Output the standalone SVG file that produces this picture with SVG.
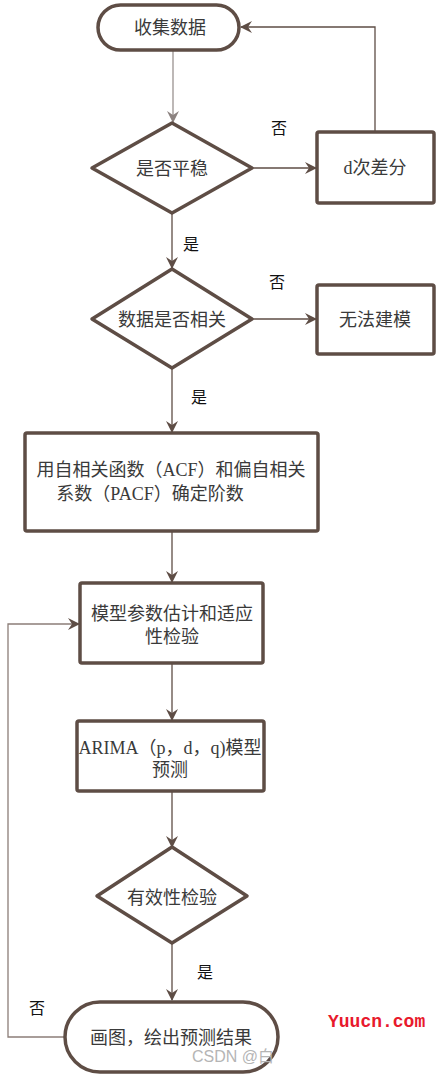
<svg xmlns="http://www.w3.org/2000/svg" width="438" height="1075" viewBox="0 0 438 1075">
<style>
.n{fill:#fff;stroke:#5e4d45;stroke-width:3.5;stroke-linejoin:round}
.t{font-family:"Liberation Serif","Noto Sans CJK SC",serif;font-size:18px;fill:#3a3a3a;text-anchor:middle;dominant-baseline:central}
.l{font-family:"Liberation Serif","Noto Sans CJK SC",serif;font-size:16px;fill:#111;text-anchor:middle;dominant-baseline:central}
.c{fill:none;stroke:#5e4d45;stroke-width:1.3}
</style>
<defs>
<marker id="a" viewBox="0 0 12 12" refX="11" refY="6" markerWidth="12" markerHeight="12" markerUnits="userSpaceOnUse" orient="auto">
<path d="M0,0 L12,6 L0,12 L4,6 z" fill="#5e4d45"/>
</marker>
<marker id="g" viewBox="0 0 12 12" refX="11" refY="6" markerWidth="12" markerHeight="12" markerUnits="userSpaceOnUse" orient="auto">
<path d="M0,0 L12,6 L0,12 L4,6 z" fill="#8c8280"/>
</marker>
</defs>
<g id="connectors">
<path class="c" style="stroke:#9a9290" d="M173,51 V122" marker-end="url(#g)"/>
<path class="c" d="M252,168 H316" marker-end="url(#a)"/>
<path class="c" d="M375,132 V27 H241" marker-end="url(#a)"/>
<path class="c" d="M172,213 V268" marker-end="url(#a)"/>
<path class="c" d="M252,319 H316" marker-end="url(#a)"/>
<path class="c" d="M172,368 V432" marker-end="url(#a)"/>
<path class="c" d="M172,532 V582" marker-end="url(#a)"/>
<path class="c" d="M172,663 V720" marker-end="url(#a)"/>
<path class="c" d="M172,791 V847" marker-end="url(#a)"/>
<path class="c" d="M172,943 V1000" marker-end="url(#a)"/>
<path class="c" style="stroke:#8c7d78" d="M65,1037 H8 V624 H79" marker-end="url(#a)"/>
<text class="l" x="279" y="128">否</text>
<text class="l" x="191" y="244">是</text>
<text class="l" x="277" y="282">否</text>
<text class="l" x="199" y="397">是</text>
<text class="l" x="205" y="972">是</text>
<text class="l" x="37" y="1008">否</text>
</g>
<g id="n1"><rect class="n" x="98" y="5" width="141" height="45" rx="22.5"/><text class="t" x="170" y="28">收集数据</text></g>
<g id="n2"><polygon class="n" points="172,123 252,168 172,213 92,168"/><text class="t" x="172" y="169">是否平稳</text></g>
<g id="n3"><rect class="n" x="317" y="132" width="117" height="71" rx="2"/><text class="t" x="375" y="168">d次差分</text></g>
<g id="n4"><polygon class="n" points="172,269 252,319 172,368 92,319"/><text class="t" x="172" y="320">数据是否相关</text></g>
<g id="n5"><rect class="n" x="317" y="285" width="117" height="69" rx="2"/><text class="t" x="375" y="320">无法建模</text></g>
<g id="n6"><rect class="n" x="25" y="433" width="293" height="98" rx="2"/><text class="t" x="171" y="470">用自相关函数（ACF）和偏自相关</text><text class="t" x="150" y="494">系数（PACF）确定阶数</text></g>
<g id="n7"><rect class="n" x="80" y="583" width="183" height="80" rx="2"/><text class="t" x="172" y="614">模型参数估计和适应</text><text class="t" x="172" y="637">性检验</text></g>
<g id="n8"><rect class="n" x="77" y="721" width="187" height="70" rx="2"/><text class="t" x="170" y="748">ARIMA（p，d，q)模型</text><text class="t" x="170" y="770">预测</text></g>
<g id="n9"><polygon class="n" points="172,847 247,896 172,943 97,896"/><text class="t" x="172" y="898">有效性检验</text></g>
<g id="n10"><rect class="n" x="65" y="1002" width="213" height="70" rx="35"/><text class="t" x="171" y="1038">画图，绘出预测结果</text></g>
<text x="328" y="1027" style="font-family:'Liberation Mono',monospace;font-size:18px;font-weight:bold;fill:#e8192c">Yuucn.com</text>
<text x="192" y="1062" style="font-family:'Liberation Sans','Noto Sans CJK SC',sans-serif;font-size:16px;fill:#b5b5b5">CSDN @白</text>
</svg>
